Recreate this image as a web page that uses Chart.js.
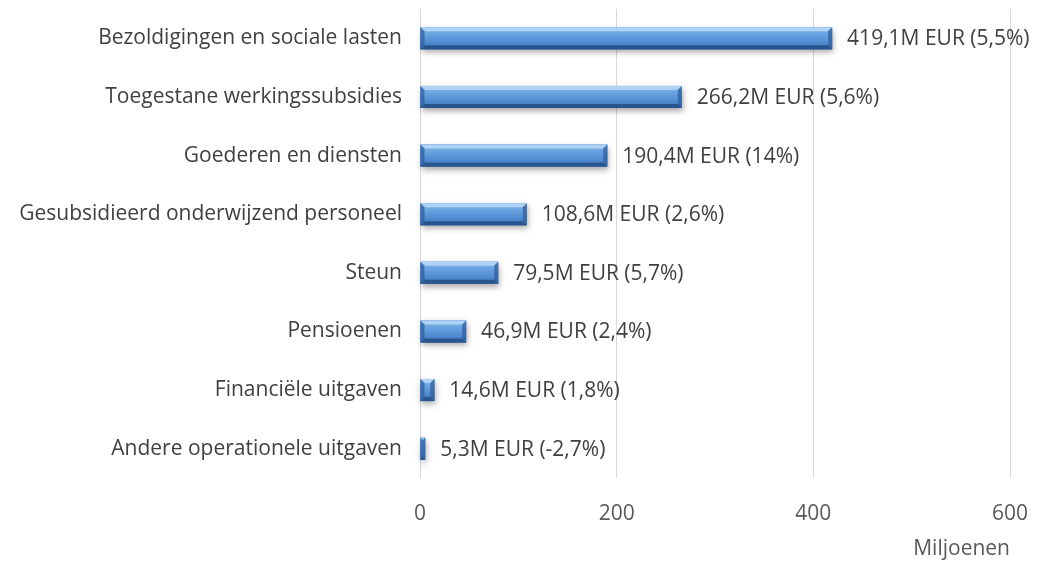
<!DOCTYPE html>
<html>
<head>
<meta charset="utf-8">
<script src="https://cdn.jsdelivr.net/npm/chart.js@4"></script>
<style>
  html, body { margin: 0; padding: 0; background: #ffffff; }
  #wrap { width: 1039px; height: 561px; }
</style>
</head>
<body>
<div id="wrap"><canvas id="chart"></canvas></div>
<script>
const categories = [
    'Bezoldigingen en sociale lasten',
    'Toegestane werkingssubsidies',
    'Goederen en diensten',
    'Gesubsidieerd onderwijzend personeel',
    'Steun',
    'Pensioenen',
    'Financiële uitgaven',
    'Andere operationele uitgaven'
];
const amounts = [419.1, 266.2, 190.4, 108.6, 79.5, 46.9, 14.6, 5.3];
const valueLabels = [
    '419,1M EUR (5,5%)',
    '266,2M EUR (5,6%)',
    '190,4M EUR (14%)',
    '108,6M EUR (2,6%)',
    '79,5M EUR (5,7%)',
    '46,9M EUR (2,4%)',
    '14,6M EUR (1,8%)',
    '5,3M EUR (-2,7%)'
];
const xTicks = [0, 200, 400, 600];

const fontFamily = "'Open Sans', sans-serif";
const fontSize = 21;

// Draw the bevelled bars on top of the library's bars
const bevelBars = {
    id: 'bevelBars',
    afterDatasetsDraw(chart) {
        const ctx = chart.ctx;
        chart.getDatasetMeta(0).data.forEach((bar) => {
            const x0 = bar.base, x1 = bar.x, h = bar.height;
            const y0 = bar.y - h / 2, y1 = bar.y + h / 2;
            const w = x1 - x0;
            const b = Math.min(4, w / 2);

            ctx.save();
            ctx.shadowColor = 'rgba(0,0,0,0.35)';
            ctx.shadowBlur = 6;
            ctx.shadowOffsetX = 1;
            ctx.shadowOffsetY = 3;
            ctx.fillStyle = '#3f77ba';
            ctx.fillRect(x0, y0, w, h);
            ctx.restore();

            const g = ctx.createLinearGradient(0, y0, 0, y1);
            g.addColorStop(0, '#8fbdec');
            g.addColorStop(0.3, '#6aa3e0');
            g.addColorStop(0.7, '#4f8bd0');
            g.addColorStop(1, '#3e74b6');
            ctx.fillStyle = g;
            ctx.fillRect(x0, y0, w, h);

            // top bevel
            ctx.fillStyle = 'rgba(190,220,250,0.75)';
            ctx.beginPath();
            ctx.moveTo(x0, y0); ctx.lineTo(x1, y0);
            ctx.lineTo(x1 - b, y0 + b); ctx.lineTo(x0 + b, y0 + b);
            ctx.closePath(); ctx.fill();

            // bottom bevel
            ctx.fillStyle = 'rgba(35,75,130,0.8)';
            ctx.beginPath();
            ctx.moveTo(x0, y1); ctx.lineTo(x1, y1);
            ctx.lineTo(x1 - b, y1 - b); ctx.lineTo(x0 + b, y1 - b);
            ctx.closePath(); ctx.fill();

            // end bevels
            ctx.fillStyle = 'rgba(45,95,160,0.75)';
            ctx.beginPath();
            ctx.moveTo(x0, y0); ctx.lineTo(x0 + b, y0 + b);
            ctx.lineTo(x0 + b, y1 - b); ctx.lineTo(x0, y1);
            ctx.closePath(); ctx.fill();
            ctx.beginPath();
            ctx.moveTo(x1, y0); ctx.lineTo(x1 - b, y0 + b);
            ctx.lineTo(x1 - b, y1 - b); ctx.lineTo(x1, y1);
            ctx.closePath(); ctx.fill();
        });
    }
};

// Value labels next to each bar
const barLabels = {
    id: 'barLabels',
    afterDatasetsDraw(chart) {
        const ctx = chart.ctx;
        ctx.save();
        ctx.font = fontSize + 'px ' + fontFamily;
        ctx.fillStyle = '#404040';
        ctx.textAlign = 'left';
        ctx.textBaseline = 'middle';
        chart.getDatasetMeta(0).data.forEach((bar, i) => {
            ctx.fillText(valueLabels[i], bar.x + 15, bar.y + 1);
        });
        ctx.restore();
    }
};

const ctx = document.getElementById('chart').getContext('2d');
new Chart(ctx, {
    type: 'bar',
    data: {
        labels: categories,
        datasets: [{
            data: amounts,
            backgroundColor: '#4f8bd0',
            borderWidth: 0,
            barPercentage: 0.375,
            categoryPercentage: 1.0
        }]
    },
    options: {
        indexAxis: 'y',
        responsive: true,
        maintainAspectRatio: false,
        animation: false,
        layout: { padding: { top: 9, right: 29, bottom: 1, left: 0 } },
        plugins: {
            legend: { display: false },
            tooltip: { enabled: false }
        },
        scales: {
            x: {
                min: 0,
                max: 600,
                afterBuildTicks: (scale) => {
                    scale.ticks = xTicks.map(v => ({ value: v }));
                },
                afterFit: (scale) => {
                    scale.height = 82;
                    scale.paddingLeft = 0;
                    scale.paddingRight = 0;
                },
                grid: { color: '#d9d9d9', drawTicks: false, lineWidth: 1 },
                border: { display: false },
                ticks: {
                    color: '#595959',
                    padding: 26,
                    font: { family: fontFamily, size: fontSize, lineHeight: 1 }
                },
                title: {
                    display: true,
                    text: 'Miljoenen',
                    align: 'end',
                    color: '#595959',
                    padding: { top: 12, bottom: 0 },
                    font: { family: fontFamily, size: fontSize, lineHeight: 1 }
                }
            },
            y: {
                grid: { display: false },
                border: { display: false },
                afterFit: (scale) => {
                    scale.width = 420;
                    scale.paddingTop = 0;
                    scale.paddingBottom = 0;
                },
                ticks: {
                    color: '#404040',
                    padding: 10,
                    font: { family: fontFamily, size: fontSize }
                }
            }
        }
    },
    plugins: [bevelBars, barLabels]
});
</script>
</body>
</html>
